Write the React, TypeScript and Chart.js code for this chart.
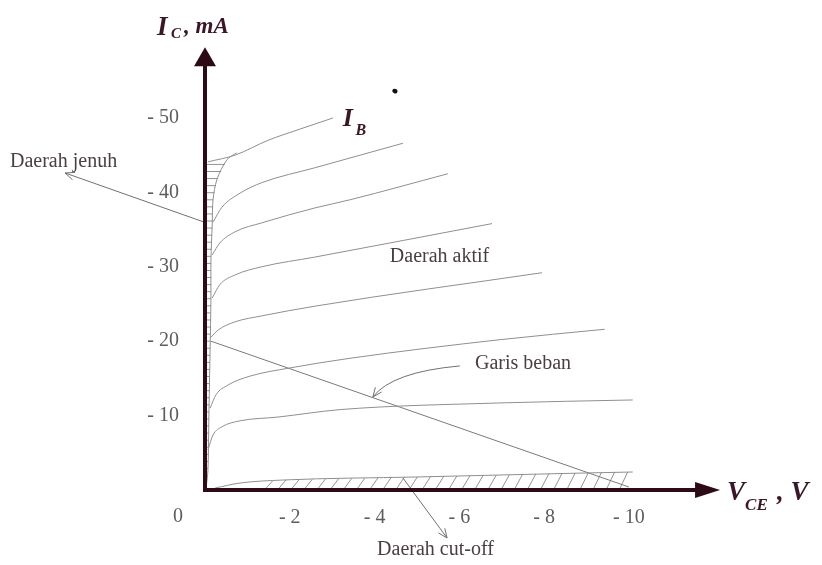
import React, { useEffect, useRef } from 'react';
import { Chart, registerables } from 'chart.js';

Chart.register(...registerables);

// Axis ticks
const xTickValues = [-2, -4, -6, -8, -10];
const yTickValues = [-10, -20, -30, -40, -50];

// I_B characteristic curves: V_CE (V) and I_C (mA)
const ib1V = [-0.07, -0.71, -1.49, -2.24, -3.02];
const ib1I = [-44.1, -45.0, -47.0, -48.5, -50.0];
const ib2V = [-0.19, -0.4, -0.83, -1.34, -2.59, -4.67];
const ib2I = [-36.0, -38.0, -39.9, -41.3, -43.3, -46.6];
const ib3V = [-0.17, -0.35, -0.71, -1.34, -2.59, -3.42, -5.73];
const ib3I = [-31.6, -33.2, -34.7, -35.9, -37.9, -39.0, -42.5];
const ib4V = [-0.17, -0.35, -0.71, -1.34, -2.59, -6.77];
const ib4I = [-25.8, -27.6, -28.9, -30.0, -31.3, -35.8];
const ib5V = [-0.12, -0.31, -0.71, -1.34, -2.59, -7.95];
const ib5I = [-20.4, -21.5, -22.6, -23.4, -24.7, -29.2];
const ib6V = [-0.12, -0.26, -0.54, -1.06, -2.0, -3.42, -6.96, -9.43];
const ib6I = [-11.0, -12.8, -14.1, -15.3, -16.4, -17.7, -20.2, -21.6];
const ib7V = [-0.07, -0.19, -0.4, -0.83, -1.72, -3.18, -6.96, -10.09];
const ib7I = [-5.4, -7.4, -8.5, -9.3, -9.8, -10.8, -11.7, -12.1];
const ib8V = [-0.24, -0.83, -1.84, -5.0, -8.92, -10.09];
const ib8I = [-0.27, -0.94, -1.34, -1.75, -2.28, -2.42];

// Saturation boundary (daerah jenuh)
const satV = [-0.02, -0.07, -0.09, -0.12, -0.14, -0.14, -0.17, -0.19, -0.28, -0.52, -0.75];
const satI = [0, -2.7, -9.4, -18.8, -25.5, -30.9, -35.6, -39.0, -41.7, -44.4, -45.3];

// Load line (garis beban)
const loadV = [-0.14, -10.0];
const loadI = [-20.0, -0.4];

// Axis arrow tips
const axisTipV = -12.15;
const axisTipI = -59.5;

const serif = '"Liberation Serif", "Times New Roman", serif';

function interpAt(keys: number[], vals: number[], k: number): number {
  for (let j = 0; j < keys.length - 1; j++) {
    const a = keys[j], b = keys[j + 1];
    if ((k <= a && k >= b) || (k >= a && k <= b)) {
      if (a === b) return vals[j];
      const t = (k - a) / (b - a);
      return vals[j] + t * (vals[j + 1] - vals[j]);
    }
  }
  return Math.abs(k - keys[0]) < Math.abs(k - keys[keys.length - 1]) ? vals[0] : vals[vals.length - 1];
}

function openArrow(ctx: CanvasRenderingContext2D, fx: number, fy: number, tx: number, ty: number, size = 10) {
  const ang = Math.atan2(ty - fy, tx - fx);
  ctx.beginPath();
  ctx.moveTo(tx - size * Math.cos(ang - 0.4), ty - size * Math.sin(ang - 0.4));
  ctx.lineTo(tx, ty);
  ctx.lineTo(tx - size * Math.cos(ang + 0.4), ty - size * Math.sin(ang + 0.4));
  ctx.stroke();
}

const decor = {
  id: 'decor',
  afterDatasetsDraw(chart: any) {
    const { ctx } = chart;
    const xs = chart.scales.x;
    const ys = chart.scales.y;
    const X = (v: number) => xs.getPixelForValue(v);
    const Y = (v: number) => ys.getPixelForValue(v);
    ctx.save();

    // saturation hatching
    ctx.strokeStyle = '#777';
    ctx.lineWidth = 0.8;
    for (let i = -1.0; i >= -44.2; i -= 0.95) {
      const v = interpAt(satI, satV, i);
      ctx.beginPath();
      ctx.moveTo(X(0), Y(i));
      ctx.lineTo(X(v), Y(i));
      ctx.stroke();
    }
    // cut-off hatching
    for (let v = -1.4; v >= -9.9; v -= 0.31) {
      const vt = v - 0.2;
      const it = interpAt(ib8V, ib8I, vt);
      ctx.beginPath();
      ctx.moveTo(X(v), Y(0));
      ctx.lineTo(X(vt), Y(it));
      ctx.stroke();
    }

    // annotation arrows
    ctx.strokeStyle = '#707070';
    ctx.lineWidth = 1;
    // Daerah jenuh
    ctx.beginPath();
    ctx.moveTo(X(0.02), Y(-36.0));
    ctx.lineTo(X(3.3), Y(-42.6));
    ctx.stroke();
    openArrow(ctx, X(0.02), Y(-36.0), X(3.3), Y(-42.6));
    // Garis beban (curved)
    ctx.beginPath();
    ctx.moveTo(X(-6.01), Y(-16.67));
    ctx.quadraticCurveTo(X(-4.41), Y(-15.86), X(-3.96), Y(-12.5));
    ctx.stroke();
    openArrow(ctx, X(-4.41), Y(-15.86), X(-3.96), Y(-12.5));
    // Daerah cut-off
    ctx.beginPath();
    ctx.moveTo(X(-4.67), Y(-1.6));
    ctx.lineTo(X(-5.71), Y(6.45));
    ctx.stroke();
    openArrow(ctx, X(-4.67), Y(-1.6), X(-5.71), Y(6.45));

    // axes with arrows
    const ax = '#2d0b16';
    const ox = X(0), oy = Y(0);
    const yt = Y(axisTipI), xt = X(axisTipV);
    ctx.strokeStyle = ax;
    ctx.fillStyle = ax;
    ctx.lineWidth = 4;
    ctx.beginPath();
    ctx.moveTo(ox, oy + 2);
    ctx.lineTo(ox, yt + 16);
    ctx.stroke();
    ctx.beginPath();
    ctx.moveTo(ox - 2, oy);
    ctx.lineTo(xt - 22, oy);
    ctx.stroke();
    ctx.beginPath();
    ctx.moveTo(ox, yt);
    ctx.lineTo(ox - 11, yt + 19);
    ctx.lineTo(ox + 11, yt + 19);
    ctx.closePath();
    ctx.fill();
    ctx.beginPath();
    ctx.moveTo(xt, oy);
    ctx.lineTo(xt - 25, oy - 8);
    ctx.lineTo(xt - 25, oy + 8);
    ctx.closePath();
    ctx.fill();

    // axis titles
    ctx.fillStyle = '#3b1626';
    ctx.textAlign = 'left';
    ctx.textBaseline = 'alphabetic';
    ctx.font = `italic bold 27px ${serif}`;
    ctx.fillText('I', ox - 48, yt - 12);
    ctx.font = `italic bold 15px ${serif}`;
    ctx.fillText('C', ox - 34, yt - 9);
    ctx.font = `italic bold 23px ${serif}`;
    ctx.fillText(', mA', ox - 21, yt - 14);

    ctx.font = `italic bold 27px ${serif}`;
    ctx.fillText('V', xt + 7, oy + 10);
    ctx.font = `italic bold 17px ${serif}`;
    ctx.fillText('CE', xt + 25, oy + 20);
    ctx.font = `italic bold 27px ${serif}`;
    ctx.fillText(', V', xt + 57, oy + 10);

    // I_B label
    ctx.font = `italic bold 26px ${serif}`;
    ctx.fillText('I', X(-3.25), Y(-48.9));
    ctx.font = `italic bold 16px ${serif}`;
    ctx.fillText('B', X(-3.55), Y(-47.7));

    // region labels
    ctx.fillStyle = '#4b3d44';
    ctx.font = `20px ${serif}`;
    ctx.textBaseline = 'middle';
    ctx.fillText('Daerah jenuh', X(4.6), Y(-44.1));
    ctx.fillText('Daerah aktif', X(-4.36), Y(-31.3));
    ctx.fillText('Garis beban', X(-6.37), Y(-16.9));
    ctx.fillText('Daerah cut-off', X(-4.06), Y(8.06));

    // origin label
    ctx.fillStyle = '#5d5d5d';
    ctx.textAlign = 'center';
    ctx.fillText('0', ox - 27, oy + 27);

    // scan speck
    ctx.fillStyle = '#111';
    ctx.beginPath();
    ctx.ellipse(X(-4.48), Y(-53.6), 2.6, 2.2, 0.4, 0, Math.PI * 2);
    ctx.fill();

    ctx.restore();
  },
};

export default function App() {
  const ref = useRef<HTMLCanvasElement>(null);
  useEffect(() => {
    if (!ref.current) return;
    const mk = (v: number[], i: number[]) => v.map((vv, k) => ({ x: vv, y: i[k] }));
    const curves: [number[], number[]][] = [
      [ib1V, ib1I], [ib2V, ib2I], [ib3V, ib3I], [ib4V, ib4I],
      [ib5V, ib5I], [ib6V, ib6I], [ib7V, ib7I], [ib8V, ib8I],
    ];
    const datasets: any[] = curves.map(([v, i], k) => ({
      label: 'IB' + (k + 1),
      data: mk(v, i),
      borderColor: '#8f8f8f',
      borderWidth: 1,
      pointRadius: 0,
      cubicInterpolationMode: 'monotone',
      fill: false,
    }));
    datasets.push({
      label: 'Daerah jenuh',
      data: mk(satV, satI),
      borderColor: '#8f8f8f',
      borderWidth: 1,
      pointRadius: 0,
      tension: 0.3,
      fill: false,
    });
    datasets.push({
      label: 'Garis beban',
      data: mk(loadV, loadI),
      borderColor: '#7a7a7a',
      borderWidth: 1,
      pointRadius: 0,
      tension: 0,
      fill: false,
    });
    const tickFont = { family: serif, size: 20 };
    const chart = new Chart(ref.current, {
      type: 'line',
      data: { datasets },
      options: {
        animation: false,
        responsive: false,
        devicePixelRatio: 1,
        layout: { padding: { left: 0, right: 82, top: 45, bottom: 0 } },
        plugins: { legend: { display: false }, tooltip: { enabled: false } },
        scales: {
          x: {
            type: 'linear',
            min: -12.62,
            max: 0,
            reverse: true,
            grid: { display: false, drawTicks: false },
            border: { display: false },
            afterBuildTicks: (s: any) => { s.ticks = xTickValues.map((v) => ({ value: v })); },
            afterFit: (s: any) => { s.height = 75; },
            ticks: {
              callback: (v: any) => '- ' + Math.abs(Number(v)),
              color: '#5d5d5d',
              font: tickFont,
              padding: 16,
              maxRotation: 0,
              autoSkip: false,
            },
          },
          y: {
            type: 'linear',
            min: -59.8,
            max: 0,
            reverse: true,
            grid: { display: false, drawTicks: false },
            border: { display: false },
            afterBuildTicks: (s: any) => { s.ticks = yTickValues.map((v) => ({ value: v })); },
            afterFit: (s: any) => { s.width = 205; },
            ticks: {
              callback: (v: any) => '- ' + Math.abs(Number(v)),
              color: '#5d5d5d',
              font: tickFont,
              padding: 26,
              autoSkip: false,
            },
          },
        },
      } as any,
      plugins: [decor],
    });
    return () => chart.destroy();
  }, []);
  return (
    <canvas
      ref={ref}
      width={822}
      height={565}
      style={{ position: 'absolute', left: 0, top: 0, background: '#fff' }}
    />
  );
}
